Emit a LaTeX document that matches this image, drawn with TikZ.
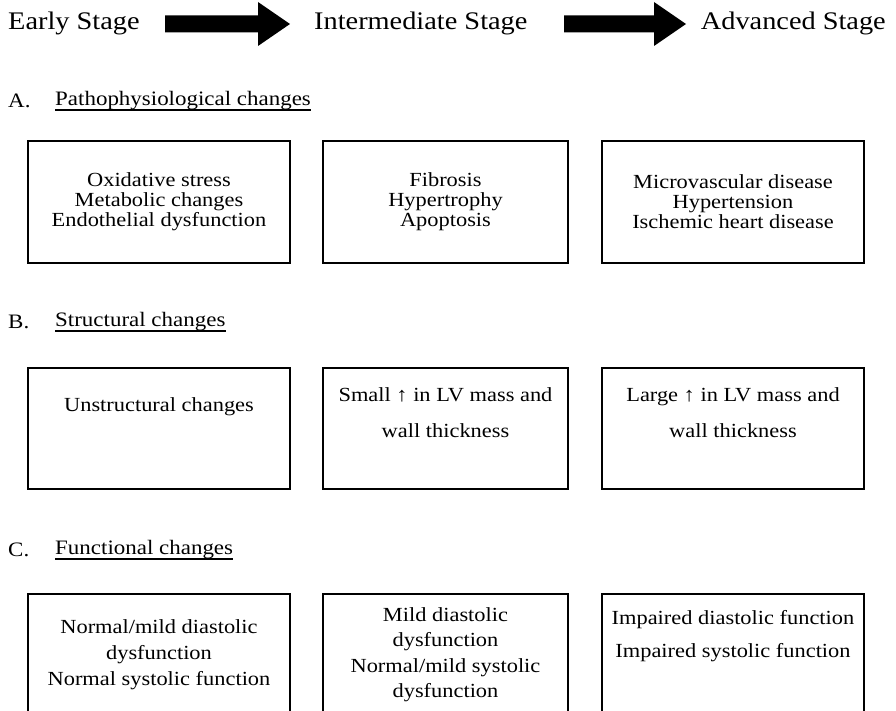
\documentclass[tikz,border=0pt]{standalone}
\usepackage{fontspec}
\setmainfont{Liberation Serif}[FakeStretch=1.12]
\usepackage{tikz}
\usetikzlibrary{positioning,calc}

\begin{document}
\begin{tikzpicture}[x=1pt, y=-1pt,
  stagebox/.style={draw, line width=1.5pt, inner sep=0pt},
  boxtext/.style={align=center, inner sep=0pt, font=\fontsize{20}{#1}\selectfont},
  boxtext/.default=20,
  stagelabel/.style={inner sep=0pt, anchor=west, font=\fontsize{25.3}{28}\selectfont},
  seclabel/.style={inner sep=0pt, anchor=west, font=\fontsize{20.5}{22}\selectfont}
]
  \useasboundingbox (0,0) rectangle (896,711);
  \clip (0,0) rectangle (896,711);

  % stages
  \node[stagelabel] (early) at (8,23) {Early Stage};
  \node[stagelabel] (inter) at (314,23) {Intermediate Stage};
  \node[stagelabel, anchor=east] (adv) at (886,23) {Advanced Stage};

  \coordinate (arrAs) at (165,24);
  \coordinate (arrAe) at (290,24);
  \coordinate (arrBs) at (564,24);
  \coordinate (arrBe) at (686,24);
  \fill ($(arrAs)+(0,-8.5)$) -- ($(arrAe)+(-32,-8.5)$) -- ($(arrAe)+(-32,-22)$) -- (arrAe)
    -- ($(arrAe)+(-32,22)$) -- ($(arrAe)+(-32,8.5)$) -- ($(arrAs)+(0,8.5)$) -- cycle;
  \fill ($(arrBs)+(0,-8.5)$) -- ($(arrBe)+(-32,-8.5)$) -- ($(arrBe)+(-32,-22)$) -- (arrBe)
    -- ($(arrBe)+(-32,22)$) -- ($(arrBe)+(-32,8.5)$) -- ($(arrBs)+(0,8.5)$) -- cycle;

  % A
  \node[seclabel] (secA) at (8,101) {A.};
  \node[seclabel] (secAt) at (55,101) {Pathophysiological changes};
  \draw[line width=2pt] ([yshift=-4pt]secAt.base west) -- ([yshift=-4pt]secAt.base east);

  \node[stagebox, boxtext, minimum width=262pt, minimum height=122pt] (pA1) at (159,202)
    {Oxidative stress\\Metabolic changes\\Endothelial dysfunction};
  \node[stagebox, boxtext, minimum width=245pt, minimum height=122pt] (pA2) at (445.5,202)
    {Fibrosis\\Hypertrophy\\Apoptosis};
  \node[stagebox, boxtext, minimum width=262pt, minimum height=122pt] (pA3) at (733,202)
    {Microvascular disease\\Hypertension\\Ischemic heart disease};

  % B
  \node[seclabel] (secB) at (8,322) {B.};
  \node[seclabel] (secBt) at (55,322) {Structural changes};
  \draw[line width=2pt] ([yshift=-4pt]secBt.base west) -- ([yshift=-4pt]secBt.base east);

  \node[stagebox, minimum width=262pt, minimum height=121pt] (sB1) at (159,428.5) {};
  \node[stagebox, minimum width=245pt, minimum height=121pt] (sB2) at (445.5,428.5) {};
  \node[stagebox, minimum width=262pt, minimum height=121pt] (sB3) at (733,428.5) {};
  \node[boxtext, below=30pt of sB1.north] (tB1) {Unstructural changes};
  \node[boxtext=36, below=20pt of sB2.north] (tB2) {Small ↑ in LV mass and\\wall thickness};
  \node[boxtext=36, below=20pt of sB3.north] (tB3) {Large ↑ in LV mass and\\wall thickness};

  % C
  \node[seclabel] (secC) at (8,550) {C.};
  \node[seclabel] (secCt) at (55,550) {Functional changes};
  \draw[line width=2pt] ([yshift=-4pt]secCt.base west) -- ([yshift=-4pt]secCt.base east);

  \node[stagebox, minimum width=262pt, minimum height=160pt] (fC1) at (159,674) {};
  \node[stagebox, minimum width=245pt, minimum height=160pt] (fC2) at (445.5,674) {};
  \node[stagebox, minimum width=262pt, minimum height=160pt] (fC3) at (733,674) {};
  \node[boxtext=26, below=26pt of fC1.north] (tC1) {Normal/mild diastolic\\dysfunction\\Normal systolic function};
  \node[boxtext=25.5, below=14pt of fC2.north] (tC2) {Mild diastolic\\dysfunction\\Normal/mild systolic\\dysfunction};
  \node[boxtext=33, below=17pt of fC3.north] (tC3) {Impaired diastolic function\\Impaired systolic function};
\end{tikzpicture}
\end{document}
